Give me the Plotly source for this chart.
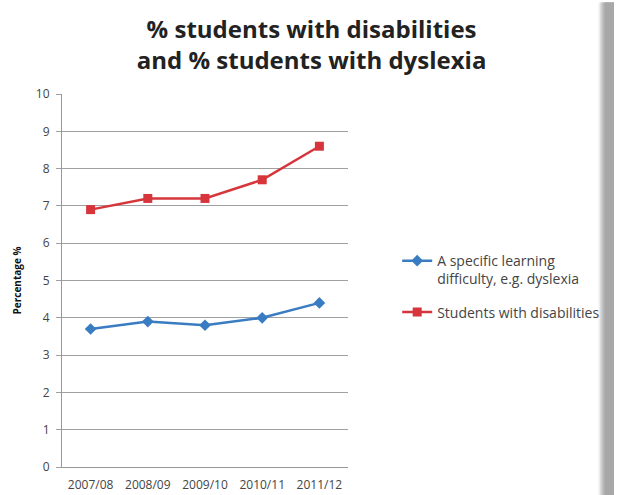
import plotly.graph_objects as go

years = ["2007/08", "2008/09", "2009/10", "2010/11", "2011/12"]
dyslexia = [3.7, 3.9, 3.8, 4.0, 4.4]
disabilities = [6.9, 7.2, 7.2, 7.7, 8.6]
y_ticks = [0, 1, 2, 3, 4, 5, 6, 7, 8, 9, 10]

BLUE = "#3a7cc2"
RED = "#d6363b"

fig = go.Figure()
fig.add_trace(go.Scatter(
    x=years, y=dyslexia, mode="lines+markers",
    name="A specific learning<br>difficulty, e.g. dyslexia",
    legendgroup="a",
    line=dict(color=BLUE, width=2.5),
    marker=dict(symbol="diamond", size=9, color=BLUE),
))
fig.add_trace(go.Scatter(
    x=years, y=disabilities, mode="lines+markers",
    name="Students with disabilities",
    legendgroup="b",
    line=dict(color=RED, width=2.5),
    marker=dict(symbol="square", size=9, color=RED),
))

# page-edge drop shadow on the right
shadow = []
greys = ["#ededed", "#d8d8d8", "#c2c2c2", "#b2b2b2", "#a8a8a8"]
for i, g in enumerate(greys):
    shadow.append(dict(type="rect", xref="paper", yref="paper",
                       x0=1.876 + i * 0.0055, x1=1.93, y0=-0.2, y1=1.245,
                       fillcolor=g, line=dict(width=0), layer="below"))

fig.update_layout(
    width=617, height=495,
    margin=dict(l=62, r=265, t=94, b=28),
    paper_bgcolor="white", plot_bgcolor="white",
    font=dict(family="Open Sans, DejaVu Sans, sans-serif", color="#444"),
    title=dict(
        text="% students with disabilities<br>and % students with dyslexia",
        x=0.505, xanchor="center", y=0.923, yanchor="middle",
        font=dict(family="Open Sans, sans-serif", size=24, color="#222", weight="bold"),
    ),
    showlegend=True,
    legend=dict(
        x=1.172, xanchor="left", y=0.595, yanchor="top",
        font=dict(size=14, color="#444"), valign="top",
        traceorder="grouped",
        bgcolor="rgba(0,0,0,0)", tracegroupgap=12,
    ),
    xaxis=dict(
        type="category", showgrid=False, showline=True, linecolor="#999", linewidth=1,
        ticks="outside", ticklen=7, tickcolor="rgba(0,0,0,0)", automargin=False,
        tickfont=dict(size=12, color="#444"), range=[-0.5, 4.5],
    ),
    yaxis=dict(
        range=[0, 10], tickvals=y_ticks, showgrid=True, gridcolor="#a0a0a0", gridwidth=1,
        showline=True, linecolor="#999", linewidth=1, ticks="outside", ticklen=5,
        tickcolor="#a0a0a0", tickfont=dict(size=12, color="#444"), zeroline=False,
        ticklabelstandoff=4, automargin=False,
        title=dict(text="Percentage %", font=dict(size=10, color="#111", weight="bold"), standoff=12),
    ),
    shapes=shadow,
)

fig.write_html(
    "out.html",
    config={"displayModeBar": False},
    post_script="document.body.style.margin='0';document.body.style.overflow='hidden';",
)
